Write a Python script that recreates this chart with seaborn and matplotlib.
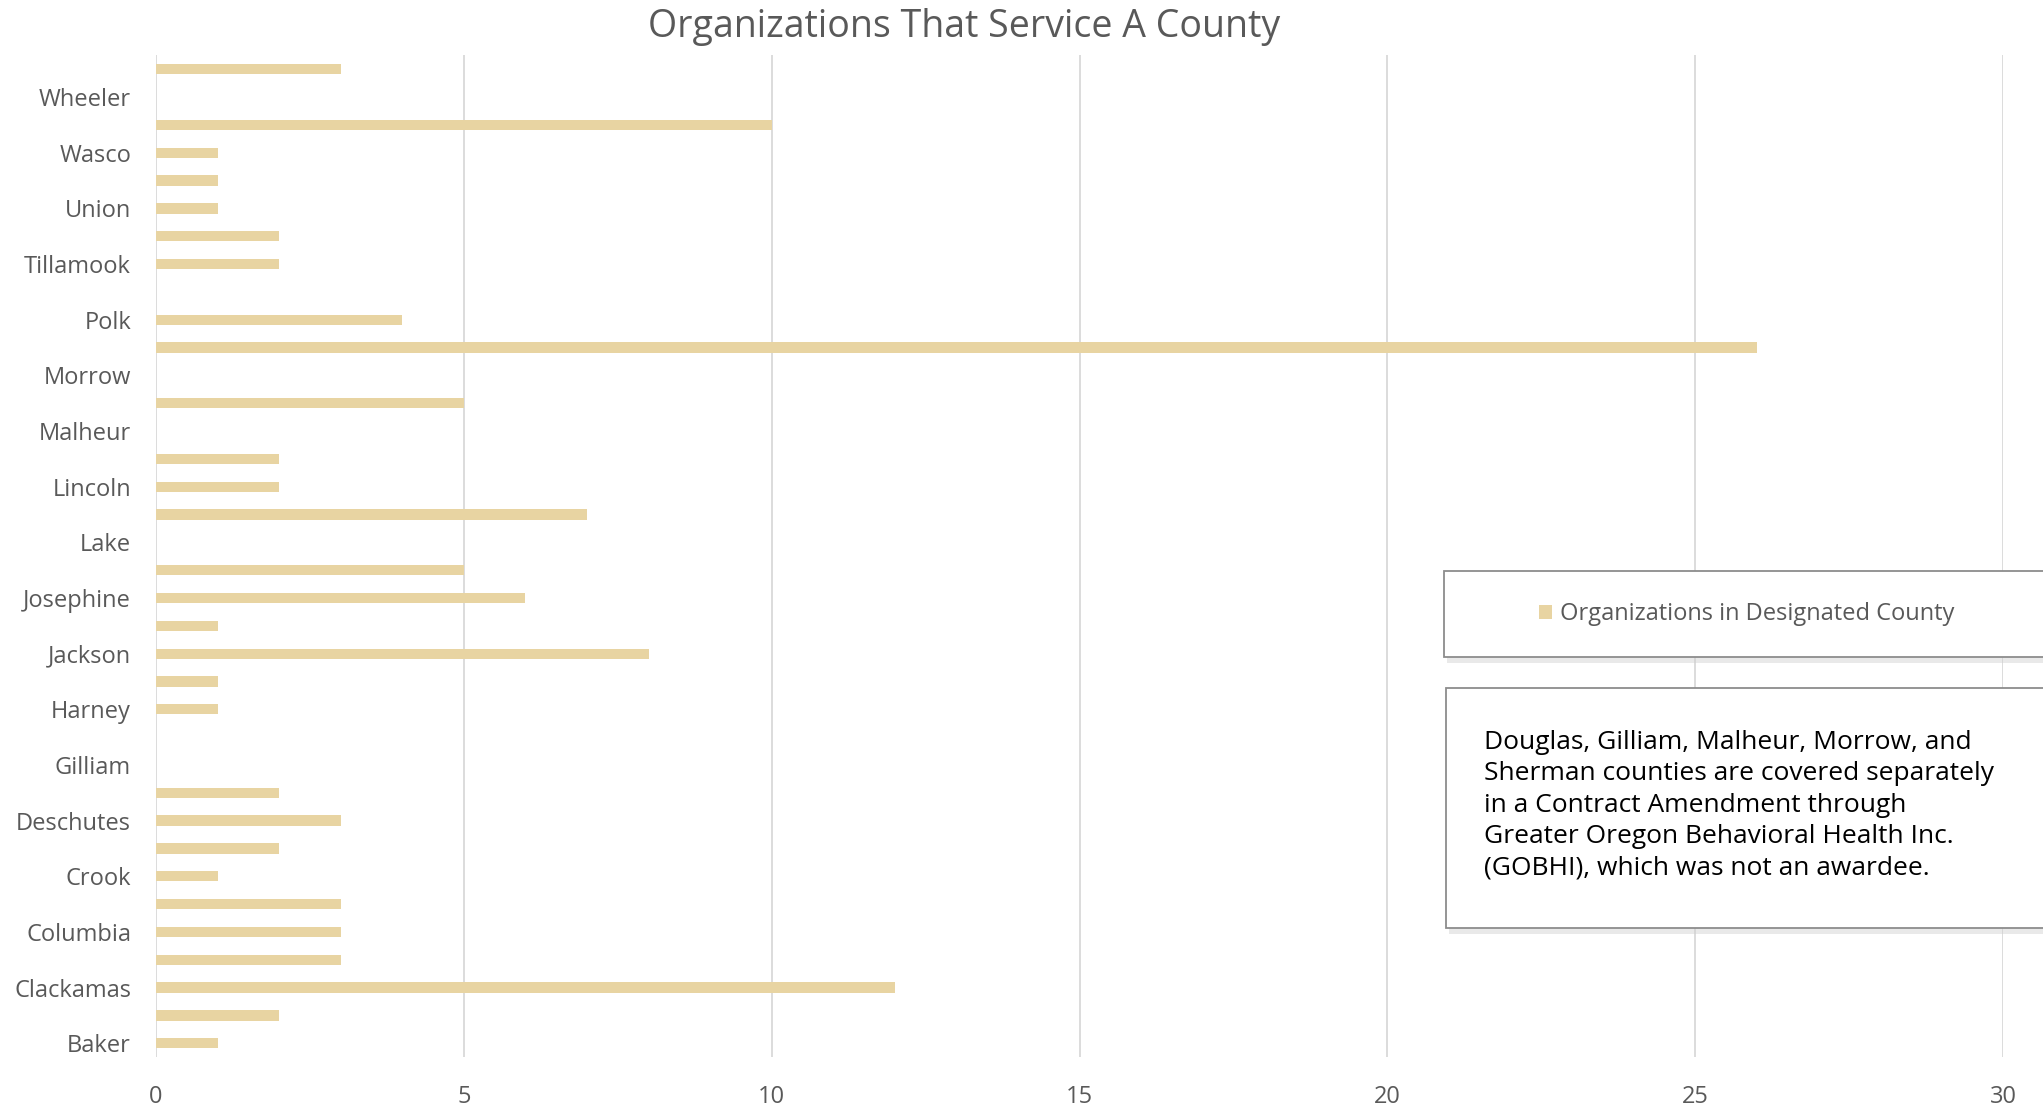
import matplotlib
matplotlib.use('Agg')
import matplotlib.pyplot as plt
from matplotlib.patches import Rectangle, Patch
import pandas as pd
import seaborn as sns

counties = ['Baker', 'Benton', 'Clackamas', 'Clatsop', 'Columbia', 'Coos', 'Crook', 'Curry',
            'Deschutes', 'Douglas', 'Gilliam', 'Grant', 'Harney', 'Hood River', 'Jackson',
            'Jefferson', 'Josephine', 'Klamath', 'Lake', 'Lane', 'Lincoln', 'Linn', 'Malheur',
            'Marion', 'Morrow', 'Multnomah', 'Polk', 'Sherman', 'Tillamook', 'Umatilla', 'Union',
            'Wallowa', 'Wasco', 'Washington', 'Wheeler', 'Yamhill']
organizations = [1, 2, 12, 3, 3, 3, 1, 2, 3, 2, 0, 0, 1, 1, 8, 1, 6, 5, 0, 7, 2, 2, 0,
                 5, 0, 26, 4, 0, 2, 2, 1, 1, 1, 10, 0, 3]
x_ticks = [0, 5, 10, 15, 20, 25, 30]

title = 'Organizations That Service A County'
series_name = 'Organizations in Designated County'
note = ('Douglas, Gilliam, Malheur, Morrow, and\n'
        'Sherman counties are covered separately\n'
        'in a Contract Amendment through\n'
        'Greater Oregon Behavioral Health Inc.\n'
        '(GOBHI), which was not an awardee.')

BAR = '#E8D4A2'
GREY = '#595959'

sns.set_style('white')
plt.rcParams['font.family'] = ['Open Sans', 'DejaVu Sans']

df = pd.DataFrame({'county': counties, 'value': organizations})
order = counties[::-1]

fig = plt.figure(figsize=(20.43, 11.07), dpi=100)
ax = fig.add_axes([0.0764, 0.045, 0.904, 0.905])
sns.barplot(data=df, y='county', x='value', order=order, orient='h',
            color=BAR, saturation=1, width=0.37, linewidth=0, ax=ax)

ax.set_xlim(0, 30)
ax.set_ylim(len(counties) - 0.5, -0.5)
ax.set_xticks(x_ticks)
ax.set_xticklabels([str(t) for t in x_ticks])
ax.set_yticks(range(len(order)))
ax.set_yticklabels([c if counties.index(c) % 2 == 0 else '' for c in order])
ax.set_xlabel('')
ax.set_ylabel('')
ax.xaxis.grid(True, color='#D9D9D9', linewidth=1.3)
ax.set_axisbelow(True)
for s in ax.spines.values():
    s.set_visible(False)
ax.tick_params(axis='x', length=0, pad=20, labelsize=17, labelcolor=GREY)
ax.tick_params(axis='y', length=0, pad=18, labelsize=17, labelcolor=GREY)
fig.text(0.472, 0.976, title, ha='center', va='center', fontsize=27, color=GREY)


def box(x, y, w, h):
    fig.patches.append(Rectangle((x + 0.0015, y - 0.005), w, h, transform=fig.transFigure,
                                 facecolor='#CFCFCF', alpha=0.45, edgecolor='none', zorder=4))
    fig.patches.append(Rectangle((x, y), w, h, transform=fig.transFigure,
                                 facecolor='white', edgecolor='#8C8C8C', linewidth=1.3, zorder=5))


box(0.7068, 1 - 657 / 1107, 0.30, 86 / 1107)
box(0.7078, 1 - 928 / 1107, 0.30, 240 / 1107)

leg = fig.legend(handles=[Patch(facecolor=BAR, edgecolor='none', label=series_name)],
                 loc='center', bbox_to_anchor=(0.855, 1 - 614 / 1107), frameon=False,
                 fontsize=17, handlelength=0.55, handleheight=0.55, handletextpad=0.35,
                 labelcolor=GREY)
leg.set_zorder(6)

fig.text(0.7265, 1 - 805 / 1107, note, ha='left', va='center', fontsize=19,
         color='black', linespacing=1.34, zorder=6)

fig.savefig('out.png', dpi=100)
